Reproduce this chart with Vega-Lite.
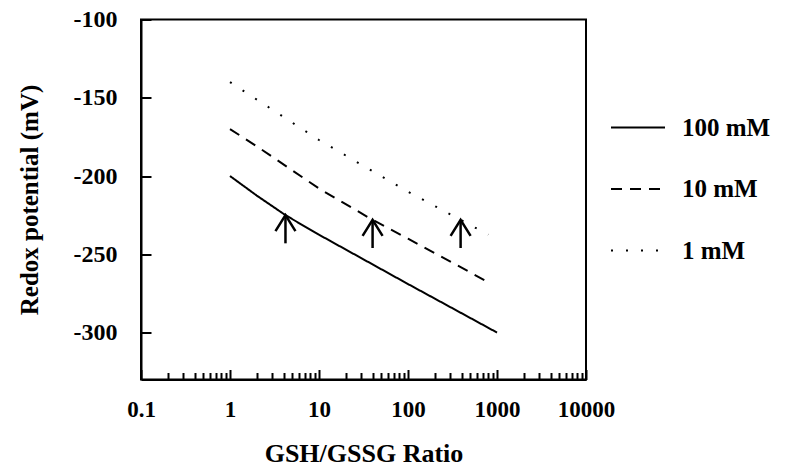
{
  "$schema": "https://vega.github.io/schema/vega-lite/v6.json",
  "width": 445,
  "height": 360,
  "autosize": {"type": "none"},
  "padding": {"left": 141, "top": 19.5, "right": 200, "bottom": 94.5},
  "background": "white",
  "config": {
    "view": {"stroke": "black", "strokeWidth": 2},
    "font": "Liberation Serif",
    "axis": {
      "grid": false,
      "domainColor": "black",
      "domainWidth": 2,
      "tickColor": "black",
      "tickWidth": 2,
      "labelFont": "Liberation Serif",
      "labelFontWeight": "bold",
      "labelFontSize": 23,
      "labelColor": "black",
      "titleFont": "Liberation Serif",
      "titleFontWeight": "bold",
      "titleFontSize": 25,
      "titleColor": "black"
    }
  },
  "datasets": {
    "curves": [
      {"series": "100 mM", "ratio": 1, "potential": -200},
      {"series": "100 mM", "ratio": 2, "potential": -212.5},
      {"series": "100 mM", "ratio": 4.2, "potential": -225},
      {"series": "100 mM", "ratio": 10, "potential": -237.5},
      {"series": "100 mM", "ratio": 100, "potential": -269},
      {"series": "100 mM", "ratio": 1000, "potential": -300},
      {"series": "10 mM", "ratio": 1, "potential": -170},
      {"series": "10 mM", "ratio": 2, "potential": -181},
      {"series": "10 mM", "ratio": 10, "potential": -208},
      {"series": "10 mM", "ratio": 40, "potential": -228},
      {"series": "10 mM", "ratio": 100, "potential": -240},
      {"series": "10 mM", "ratio": 750, "potential": -267},
      {"series": "1 mM", "ratio": 1, "potential": -140},
      {"series": "1 mM", "ratio": 10, "potential": -177},
      {"series": "1 mM", "ratio": 100, "potential": -210},
      {"series": "1 mM", "ratio": 800, "potential": -237.5}
    ],
    "arrows": [
      {"ratio": 4.2, "base": -243, "tip": -225},
      {"ratio": 40, "base": -246, "tip": -228},
      {"ratio": 390, "base": -246, "tip": -228}
    ]
  },
  "layer": [
    {
      "data": {"name": "curves"},
      "mark": {"type": "line", "color": "black", "strokeWidth": 2, "strokeCap": "butt"},
      "encoding": {
        "x": {
          "field": "ratio",
          "type": "quantitative",
          "scale": {"type": "log", "domain": [0.1, 10000], "nice": false},
          "axis": {
            "title": "GSH/GSSG Ratio",
            "titleFontSize": 26,
            "values": [0.1, 0.2, 0.3, 0.4, 0.5, 0.6, 0.7, 0.8, 0.9, 1, 2, 3, 4, 5, 6, 7, 8, 9, 10, 20, 30, 40, 50, 60, 70, 80, 90, 100, 200, 300, 400, 500, 600, 700, 800, 900, 1000, 2000, 3000, 4000, 5000, 6000, 7000, 8000, 9000, 10000],
            "format": "~g",
            "labelExpr": "indexof([0.1, 1, 10, 100, 1000, 10000], datum.value) >= 0 ? datum.label : ''",
            "labelOverlap": false,
            "labelFlush": false,
            "tickSize": {"condition": {"test": "indexof([0.1, 1, 10, 100, 1000, 10000], datum.value) >= 0", "value": -10}, "value": -7},
            "labelPadding": 29,
            "titlePadding": 16
          }
        },
        "y": {
          "field": "potential",
          "type": "quantitative",
          "scale": {"domain": [-330, -100], "nice": false, "zero": false},
          "axis": {
            "title": "Redox potential (mV)",
            "values": [-300, -250, -200, -150, -100],
            "labelExpr": "'' + datum.value",
            "labelFontSize": 24,
            "tickSize": -10,
            "labelPadding": 34,
            "labelFlush": false,
            "titlePadding": 31
          }
        },
        "strokeDash": {
          "field": "series",
          "type": "nominal",
          "scale": {"domain": ["100 mM", "10 mM", "1 mM"], "range": [[1, 0], [11, 8], [2, 13]]},
          "legend": {
            "title": null,
            "orient": "none",
            "legendX": 469,
            "legendY": 80,
            "symbolType": "stroke",
            "symbolSize": 2916,
            "symbolStrokeWidth": 2,
            "symbolStrokeColor": "black",
            "labelFont": "Liberation Serif",
            "labelFontWeight": "bold",
            "labelFontSize": 25,
            "labelColor": "black",
            "labelOffset": 16,
            "rowPadding": 20.5
          }
        }
      }
    },
    {
      "data": {"name": "arrows"},
      "mark": {"type": "rule", "color": "black", "strokeWidth": 2.5},
      "encoding": {
        "x": {"field": "ratio", "type": "quantitative"},
        "y": {"field": "base", "type": "quantitative"},
        "y2": {"field": "tip"}
      }
    },
    {
      "data": {"name": "arrows"},
      "mark": {"type": "point", "shape": "M-1,1.6L0,0L1,1.6", "size": 400, "filled": false, "color": "black", "strokeWidth": 2.5, "opacity": 1},
      "encoding": {
        "x": {"field": "ratio", "type": "quantitative"},
        "y": {"field": "tip", "type": "quantitative"}
      }
    }
  ]
}
